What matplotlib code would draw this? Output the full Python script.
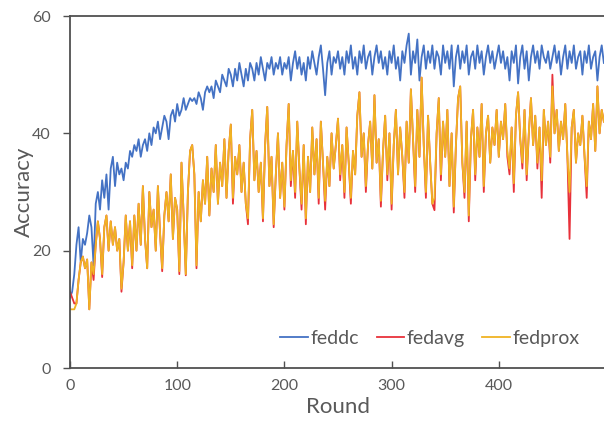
import numpy as np
import matplotlib
matplotlib.use("Agg")
import matplotlib.pyplot as plt

# --- data (one value every 2 rounds) ---
rounds = np.arange(0, 500, 2)

feddc = [
    12, 13, 16, 21, 24, 18, 22, 21, 23, 26, 24, 17.5, 28, 30, 27, 32, 29, 33, 27, 34, 36, 31, 35, 33, 34,
    32, 35, 34, 37, 36, 38, 37, 39, 36, 38, 39, 37, 40, 38, 41, 40, 42, 39, 41, 43, 42, 39, 43, 44, 42,
    45, 43, 44, 46, 44, 45, 46, 45.5, 46, 45, 47, 46, 44, 47, 48, 47, 48, 46, 49, 48, 47, 50, 49, 48, 51,
    50, 48, 51, 49, 52, 50, 48, 51, 49, 52, 51, 49, 52, 50, 53, 51, 49, 52, 51, 53, 50, 52, 51, 53, 50,
    52, 51, 53, 49, 52, 54, 51, 53, 50, 52, 49, 53, 51, 54, 52, 50, 53, 55, 51, 46.5, 52, 54, 50, 53, 52,
    54, 51, 53, 50, 54, 52, 55, 51, 53, 50, 54, 52, 55, 51, 53, 54, 50, 53, 55, 52, 54, 51, 53, 50, 54,
    52, 55, 51, 53, 49, 54, 52, 55, 57, 50, 54, 52, 56, 49, 53, 55, 51, 54, 52, 55, 51, 54, 53, 50, 55,
    52, 54, 51, 55, 48, 53, 55, 51, 54, 52, 55, 50, 53, 54, 51, 55, 52, 54, 50, 53, 55, 52, 54, 51, 53,
    55, 52, 54, 51, 53, 49, 54, 52, 55, 48.5, 53, 55, 51, 54, 49, 53, 55, 52, 54, 51, 55, 53, 52, 54, 51,
    53, 55, 52, 54, 50, 53, 55, 51, 54, 52, 55, 51, 53, 54, 50, 54, 52, 55, 51, 53, 54, 49, 53, 55, 52,
]

fedavg = [
    13, 12, 11, 11, 15, 18, 19, 17, 18.5, 10, 18, 15, 21, 25, 22, 15.5, 24, 26, 20, 25, 21, 24, 20, 22, 13,
    18, 26, 20, 25, 17, 26, 20, 28, 21, 31, 22, 17, 30, 24, 27, 20, 31, 23, 16.5, 26, 30, 25, 33, 22, 29,
    27, 16, 35, 26, 15.8, 30, 37, 38, 33, 17, 30, 25, 32, 28, 36, 26, 34, 30, 38, 28, 35, 31, 39, 29, 37,
    41.5, 28, 36, 33, 38, 30, 35, 28, 24.5, 39, 44, 32, 37, 30, 35, 25, 38, 44.5, 31, 36, 24, 33, 40, 29, 35,
    27, 38, 45, 31, 37, 29, 42, 34, 27, 38, 24.5, 36, 30, 41, 33, 39, 28, 42, 35, 27, 36, 31, 40, 34, 38,
    42.5, 32, 38, 29, 41, 35, 28, 37, 33, 43, 47, 36, 40, 30, 38, 42, 34, 46.5, 35, 39, 27.5, 37, 43, 32, 40,
    27, 38, 44, 33, 41, 36, 29, 42, 35, 47.5, 39, 30, 44, 36, 49.5, 38, 29, 43, 35, 28, 26.9, 40, 46, 32, 42,
    36, 44, 31, 40, 26.5, 38, 46, 48, 35, 29, 42, 25, 39, 44, 32, 41, 36, 45, 30, 40, 43, 35, 41, 38, 44,
    36, 42, 39, 45, 36, 33, 41, 30, 43, 47, 39, 34, 44, 32, 40, 46, 38, 43, 34, 41, 29, 44, 38, 42, 35,
    50, 40, 44, 37, 42, 39, 45, 36, 22, 41, 44, 35, 40, 38, 43, 36, 29, 42, 39, 45, 37, 48, 40, 44, 42,
]

fedprox = [
    10, 10, 10, 11, 15, 18, 19, 17, 18.5, 10, 18, 16, 21, 25, 22, 16, 24, 26, 20, 25, 21, 24, 20, 22, 13.5,
    18, 26, 20, 25, 17.5, 26, 20, 28, 21, 31, 22, 17, 30, 24, 27, 20, 31, 23, 17, 26, 30, 25, 33, 22, 29,
    27, 16.5, 35, 26, 16, 30, 37, 38, 33, 17.5, 30, 25, 32, 28, 36, 26, 34, 30, 38, 28, 35, 31, 39, 29, 37,
    41.5, 29, 36, 33, 38, 30, 35, 28, 25.5, 39, 44, 32, 37, 30, 35, 25.5, 38, 44.5, 31, 36, 24.5, 33, 40, 29, 35,
    27.5, 38, 45, 32, 37, 30, 42, 34, 28, 38, 25.5, 36, 30, 41, 33, 39, 29, 42, 35, 28.5, 36, 31, 40, 34, 38,
    42.5, 33, 38, 30, 41, 35, 29, 37, 33, 43, 47, 36, 40, 31, 38, 42, 34, 46.5, 35, 39, 28.5, 37, 43, 33, 40,
    28, 38, 44, 33, 41, 36, 30, 42, 35, 47.5, 39, 31, 44, 36, 49.5, 38, 30, 43, 35, 28, 29, 40, 46, 33, 42,
    36, 44, 31, 40, 27.5, 38, 46, 48, 35, 30, 42, 26, 39, 44, 33, 41, 36, 45, 31, 40, 43, 35, 41, 38, 44,
    36, 42, 39, 45, 37, 34, 41, 31.5, 43, 47, 39, 35, 44, 33, 40, 46, 38, 43, 35, 41, 32, 44, 38, 42, 36,
    48, 40, 44, 37, 42, 39, 45, 36, 30, 41, 44, 35, 40, 38, 43, 36, 31, 42, 39, 45, 37, 48, 40, 44, 42,
]

series_names = ["feddc", "fedavg", "fedprox"]
series_colors = ["#4472C4", "#E8313A", "#F0B323"]

x_ticks = [0, 100, 200, 300, 400]
y_ticks = [0, 20, 40, 60]

TEXT = "#595959"
SPINE = "#505050"

plt.rcParams["font.family"] = ["Lato", "DejaVu Sans"]

fig = plt.figure(figsize=(6.04, 4.23), dpi=100)
# the plot area ends just past the right edge of the picture (cropped there)
ax = fig.add_axes([70 / 604, 55 / 423, 536 / 604, 352 / 423])

for name, vals, col in zip(series_names, [feddc, fedavg, fedprox], series_colors):
    ax.plot(rounds, vals, color=col, lw=1.3, label=name)

ax.set_xlim(0, 500)
ax.set_ylim(0, 60)
ax.set_xticks(x_ticks)
ax.set_yticks(y_ticks)

for s in ax.spines.values():
    s.set_color(SPINE)
    s.set_linewidth(1.3)
ax.spines["right"].set_visible(False)

ax.tick_params(axis="x", direction="in", length=5, width=1, color=SPINE,
               labelsize=11.5, labelcolor=TEXT, pad=8)
ax.tick_params(axis="y", direction="out", length=5, width=1, color=SPINE,
               labelsize=11.5, labelcolor=TEXT, pad=9)

ax.set_xlabel("Round", fontsize=16, color=TEXT, labelpad=3)
ax.set_ylabel("Accuracy", fontsize=16, color=TEXT)
ax.yaxis.set_label_coords(-0.068, 0.5)

ax.legend(loc="center", bbox_to_anchor=(430 / 604, 1 - 338 / 423),
          bbox_transform=fig.transFigure, ncol=3, frameon=False,
          fontsize=14, labelcolor=TEXT, handlelength=1.4,
          handletextpad=0.15, columnspacing=0.9)

fig.savefig("out.png", dpi=100)
